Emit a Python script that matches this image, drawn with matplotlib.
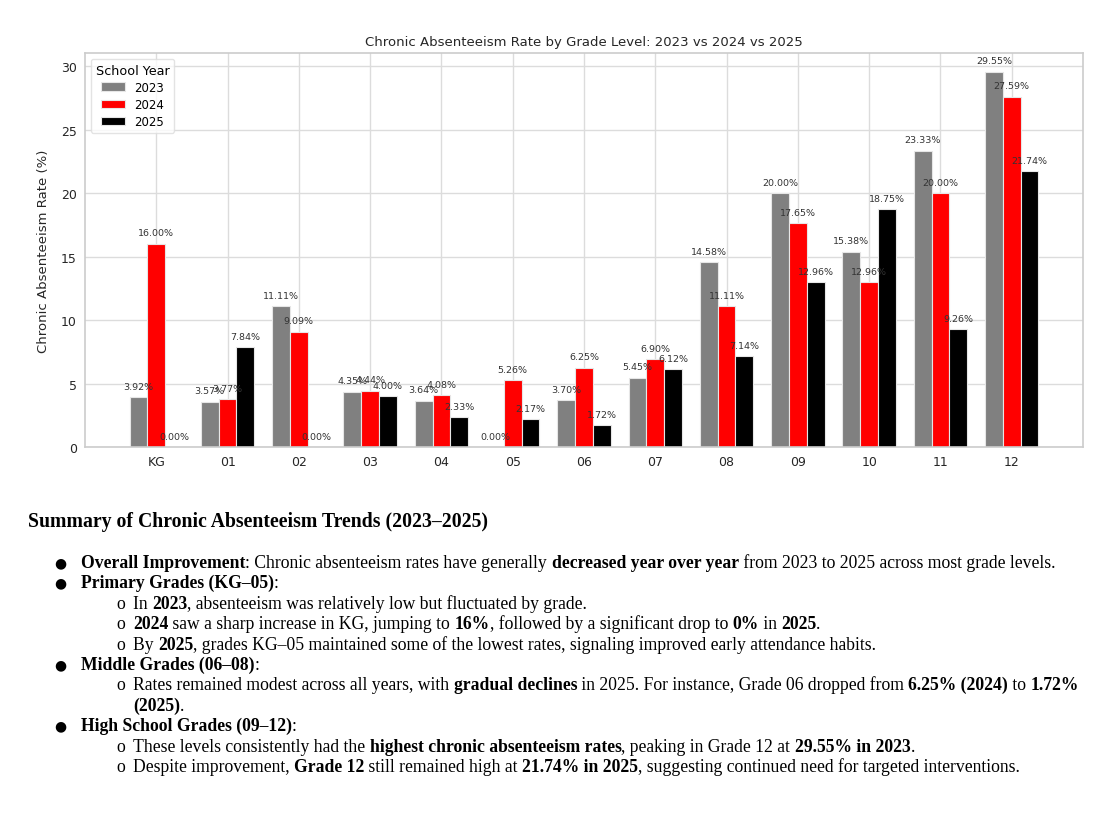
import matplotlib
matplotlib.use("Agg")
import matplotlib.pyplot as plt
import numpy as np

grades = ["KG", "01", "02", "03", "04", "05", "06", "07", "08", "09", "10", "11", "12"]
years = ["2023", "2024", "2025"]
rate_2023 = [3.92, 3.57, 11.11, 4.35, 3.64, 0.00, 3.70, 5.45, 14.58, 20.00, 15.38, 23.33, 29.55]
rate_2024 = [16.00, 3.77, 9.09, 4.44, 4.08, 5.26, 6.25, 6.90, 11.11, 17.65, 12.96, 20.00, 27.59]
rate_2025 = [0.00, 7.84, 0.00, 4.00, 2.33, 2.17, 1.72, 6.12, 7.14, 12.96, 18.75, 9.26, 21.74]
colors = ["gray", "red", "black"]

title = "Chronic Absenteeism Rate by Grade Level: 2023 vs 2024 vs 2025"
ylabel = "Chronic Absenteeism Rate (%)"

W, H = 1118, 820
fig = plt.figure(figsize=(W / 100, H / 100), dpi=100)
fig.patch.set_facecolor("white")

ax = fig.add_axes([85 / W, 1 - 448 / H, (1083 - 85) / W, (448 - 54) / H])
x = np.arange(len(grades))
width = 0.25
series = [rate_2023, rate_2024, rate_2025]
for i, (vals, yr, c) in enumerate(zip(series, years, colors)):
    pos = x + (i - 1) * width
    ax.bar(pos, vals, width, color=c, label=yr, edgecolor="#e6e6e6", linewidth=0.8, zorder=2)
    for p, v in zip(pos, vals):
        ax.text(p, v + 0.5, f"{v:.2f}%", ha="center", va="bottom", fontsize=6.8, color="#333333", zorder=3)

ax.set_xlim(-1, 13)
ax.set_ylim(0, 31.03)
ax.set_xticks(x)
ax.set_xticklabels(grades)
ax.set_yticks([0, 5, 10, 15, 20, 25, 30])
ax.tick_params(axis="both", labelsize=9, colors="#262626", length=0, pad=6)
ax.grid(True, color="#dcdcdc", linewidth=1.0, zorder=0)
ax.set_axisbelow(True)
for s in ax.spines.values():
    s.set_color("#cccccc")
    s.set_linewidth(1.2)
ax.set_title(title, fontsize=9.5, color="#262626", pad=6)
ax.set_ylabel(ylabel, fontsize=9.5, color="#262626", labelpad=8)
leg = ax.legend(title="School Year", loc="upper left", fontsize=8.5, title_fontsize=9.2,
                frameon=True, fancybox=True, edgecolor="#dddddd", borderaxespad=0.5,
                labelspacing=0.35, handlelength=2.0)

# ---------- Summary text ----------
serif = "Liberation Serif"
renderer = fig.canvas.get_renderer()


def seg_width(s, bold, size):
    t1 = fig.text(0, 0, "x" + s + "x", fontsize=size, family=serif,
                  fontweight="bold" if bold else "normal")
    t2 = fig.text(0, 0, "xx", fontsize=size, family=serif,
                  fontweight="bold" if bold else "normal")
    w = t1.get_window_extent(renderer).width - t2.get_window_extent(renderer).width
    t1.remove()
    t2.remove()
    return w


BODY = 12.7


def draw_line(xp, yp, segments, size=BODY):
    for s, bold in segments:
        fig.text(xp / W, 1 - yp / H, s, fontsize=size, family=serif,
                 fontweight="bold" if bold else "normal", va="baseline", ha="left", color="black")
        xp += seg_width(s, bold, size)


fig.text(28 / W, 1 - 527 / H, "Summary of Chronic Absenteeism Trends (2023–2025)",
         fontsize=14.25, family=serif, fontweight="bold", va="baseline", ha="left")

B, N = True, False
lines = [
    (0, [("Overall Improvement", B), (": Chronic absenteeism rates have generally ", N),
         ("decreased year over year", B), (" from 2023 to 2025 across most grade levels.", N)]),
    (0, [("Primary Grades (KG–05)", B), (":", N)]),
    (1, [("In ", N), ("2023", B), (", absenteeism was relatively low but fluctuated by grade.", N)]),
    (1, [("2024", B), (" saw a sharp increase in KG, jumping to ", N), ("16%", B),
         (", followed by a significant drop to ", N), ("0%", B), (" in ", N), ("2025", B), (".", N)]),
    (1, [("By ", N), ("2025", B), (", grades KG–05 maintained some of the lowest rates, signaling improved early attendance habits.", N)]),
    (0, [("Middle Grades (06–08)", B), (":", N)]),
    (1, [("Rates remained modest across all years, with ", N), ("gradual declines", B),
         (" in 2025. For instance, Grade 06 dropped from ", N), ("6.25% (2024)", B), (" to ", N), ("1.72%", B)]),
    (2, [("(2025)", B), (".", N)]),
    (0, [("High School Grades (09–12)", B), (":", N)]),
    (1, [("These levels consistently had the ", N), ("highest chronic absenteeism rates", B),
         (", peaking in Grade 12 at ", N), ("29.55% in 2023", B), (".", N)]),
    (1, [("Despite improvement, ", N), ("Grade 12", B), (" still remained high at ", N),
         ("21.74% in 2025", B), (", suggesting continued need for targeted interventions.", N)]),
]
y0 = 568
dy = 20.4
for k, (lvl, segs) in enumerate(lines):
    yp = y0 + k * dy
    if lvl == 0:
        fig.text(54 / W, 1 - (yp - 1) / H, "●", fontsize=10, family="DejaVu Sans", va="baseline", ha="left")
        draw_line(81, yp, segs)
    elif lvl == 1:
        fig.text(116 / W, 1 - yp / H, "o", fontsize=BODY, family=serif, va="baseline", ha="left")
        draw_line(133, yp, segs)
    else:
        draw_line(133, yp, segs)

fig.savefig("out.png", dpi=100, facecolor="white")
